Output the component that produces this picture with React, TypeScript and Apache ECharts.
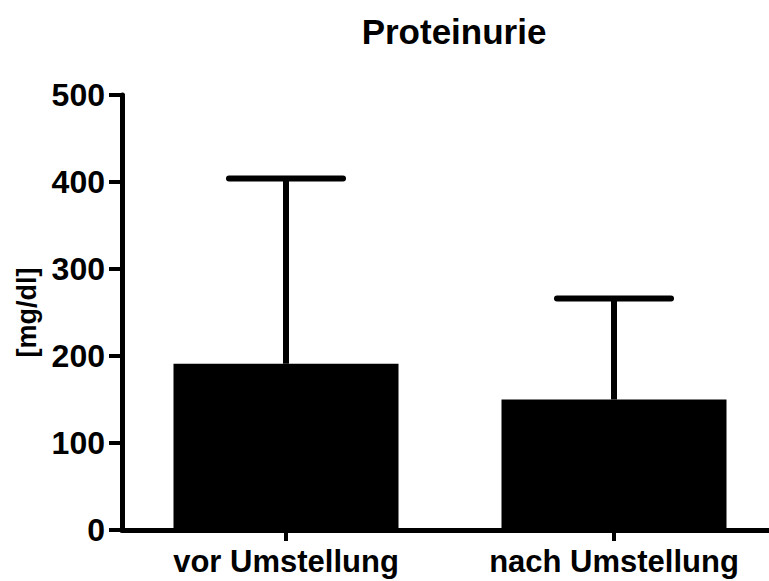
import React, { useEffect, useRef } from "react";
import * as echarts from "echarts";

const categories = ["vor Umstellung", "nach Umstellung"];
const means = [191, 150];
const errorTops = [404, 266];
const yTicks = [0, 100, 200, 300, 400, 500];

const FONT = "'Liberation Sans', Arial, Helvetica, sans-serif";

export default function App() {
  const ref = useRef<HTMLDivElement>(null);
  useEffect(() => {
    if (!ref.current) return;
    const chart = echarts.init(ref.current, null, { renderer: "svg" });
    chart.setOption({
      animation: false,
      backgroundColor: "#ffffff",
      title: {
        text: "Proteinurie",
        left: 449,
        top: 9,
        textAlign: "center",
        textStyle: { fontFamily: FONT, fontWeight: "bold", fontSize: 35, color: "#000" },
      },
      grid: { left: 122, top: 95, bottom: 51, right: 12, containLabel: false },
      xAxis: {
        type: "category",
        data: categories,
        axisLine: { lineStyle: { color: "#000", width: 5 } },
        axisTick: { show: true, alignWithLabel: true, length: 11, lineStyle: { color: "#000", width: 4 } },
        axisLabel: {
          fontFamily: FONT,
          fontWeight: "bold",
          fontSize: 31,
          color: "#000",
          margin: 16,
        },
      },
      yAxis: {
        type: "value",
        min: yTicks[0],
        max: yTicks[yTicks.length - 1],
        interval: 100,
        name: "[mg/dl]",
        nameLocation: "middle",
        nameRotate: 90,
        nameGap: 82,
        nameTextStyle: { fontFamily: FONT, fontWeight: "bold", fontSize: 27, color: "#000" },
        splitLine: { show: false },
        axisLine: { show: true, lineStyle: { color: "#000", width: 5 } },
        axisTick: { show: true, length: 13, lineStyle: { color: "#000", width: 4 } },
        axisLabel: {
          fontFamily: FONT,
          fontWeight: "bold",
          fontSize: 32,
          color: "#000",
          margin: 17,
        },
      },
      series: [
        {
          type: "bar",
          data: means,
          barWidth: 225,
          itemStyle: { color: "#000" },
          z: 2,
        },
        {
          type: "custom",
          z: 3,
          data: means.map((m, i) => [i, m, errorTops[i]]),
          renderItem: (params: any, api: any) => {
            const idx = api.value(0);
            const lo = api.coord([idx, api.value(1)]);
            const hi = api.coord([idx, api.value(2)]);
            const half = 57;
            return {
              type: "group",
              children: [
                {
                  type: "line",
                  shape: { x1: lo[0], y1: lo[1], x2: hi[0], y2: hi[1] },
                  style: { stroke: "#000", lineWidth: 6, lineCap: "butt" },
                },
                {
                  type: "line",
                  shape: { x1: hi[0] - half, y1: hi[1], x2: hi[0] + half, y2: hi[1] },
                  style: { stroke: "#000", lineWidth: 6, lineCap: "round" },
                },
              ],
            };
          },
        },
      ],
    });
    return () => chart.dispose();
  }, []);
  return (
    <div
      style={{ position: "fixed", left: 0, top: 0, width: 769, height: 581, overflow: "hidden", background: "#fff" }}
    >
      <div ref={ref} style={{ width: 790, height: 581 }} />
    </div>
  );
}
